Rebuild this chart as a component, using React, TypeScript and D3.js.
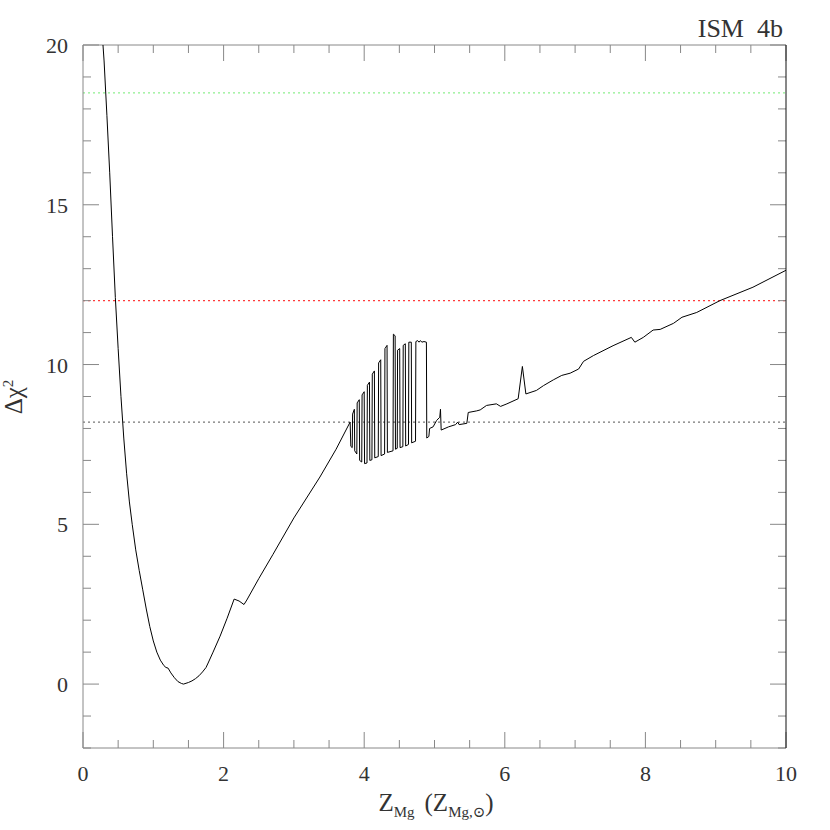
import React from 'react';
import * as d3 from 'd3';

// Δχ² vs Mg abundance
const zMg = [
  0.27, 0.30, 0.34, 0.38, 0.42, 0.46, 0.50, 0.54, 0.58, 0.62, 0.66, 0.70, 0.75, 0.80, 0.85,
  0.90, 0.95, 1.00, 1.05, 1.10, 1.15, 1.18, 1.21, 1.25, 1.30, 1.35, 1.40, 1.43, 1.50, 1.55,
  1.60, 1.65, 1.70, 1.75, 1.78, 1.85, 1.95, 2.05, 2.15, 2.22, 2.29, 2.33, 2.5,
  2.7, 3.0, 3.37, 3.6, 3.8,
  3.81, 3.83, 3.835, 3.86, 3.865, 3.895, 3.9, 3.93, 3.935, 3.965, 3.97, 4.0, 4.005, 4.04,
  4.045, 4.075, 4.08, 4.11, 4.115, 4.145, 4.15, 4.2, 4.205, 4.235, 4.24, 4.29, 4.295, 4.325,
  4.33, 4.41, 4.415, 4.44, 4.445, 4.47, 4.475, 4.505, 4.51, 4.55, 4.555, 4.585, 4.59, 4.63,
  4.635, 4.67, 4.675, 4.73, 4.735, 4.76, 4.78, 4.8, 4.82, 4.85, 4.885, 4.89,
  4.92, 4.93, 4.98, 5.03, 5.075, 5.085, 5.095, 5.2, 5.3, 5.33, 5.35, 5.46, 5.48, 5.6,
  5.65, 5.74, 5.88, 5.94, 6.03, 6.19, 6.25, 6.3, 6.45, 6.55, 6.69, 6.81, 6.93, 7.05,
  7.12, 7.26, 7.54, 7.8, 7.85, 7.97, 8.11, 8.21, 8.4, 8.52, 8.73, 9.06, 9.53, 10.0,
];
const deltaChi2 = [
  20.45, 19.5, 17.8, 16.0, 14.0, 12.1, 10.5, 9.0, 7.7, 6.6, 5.7, 5.0, 4.2, 3.55, 2.95,
  2.35, 1.8, 1.35, 1.0, 0.75, 0.58, 0.52, 0.5, 0.35, 0.2, 0.08, 0.02, 0.0, 0.05, 0.1,
  0.17, 0.26, 0.38, 0.52, 0.66, 1.0, 1.5, 2.06, 2.66, 2.6, 2.49, 2.63, 3.3,
  4.05, 5.2, 6.48, 7.35, 8.2,
  7.44, 7.4, 8.45, 8.6, 7.3, 7.2, 8.8, 8.9, 7.0, 6.95, 9.05, 9.15, 6.9, 6.92,
  9.35, 9.45, 7.0, 7.02, 9.7, 9.8, 7.08, 7.12, 10.05, 10.15, 7.15, 7.2, 10.5, 10.6,
  7.25, 7.3, 10.95, 10.9, 7.35, 7.38, 10.45, 10.5, 7.4, 7.43, 10.6, 10.65, 7.45, 7.5,
  10.7, 10.7, 7.55, 7.6, 10.72, 10.75, 10.7, 10.75, 10.7, 10.72, 10.7, 7.7,
  7.75, 8.0, 8.05, 8.25, 8.35, 8.6, 7.95, 8.05, 8.12, 8.2, 8.12, 8.16, 8.5, 8.55,
  8.58, 8.72, 8.77, 8.69, 8.77, 8.93, 9.94, 9.08, 9.19, 9.34, 9.52, 9.66, 9.73, 9.86,
  10.1, 10.28, 10.59, 10.85, 10.7, 10.85, 11.08, 11.1, 11.29, 11.48, 11.63, 12.0, 12.42, 12.95,
];

// horizontal confidence levels
const levels = [18.5, 12.0, 8.2];
const levelColors = ['#8fef8f', '#ff3b3b', '#777777'];

const xMajorTicks = [0, 2, 4, 6, 8, 10];
const yMajorTicks = [0, 5, 10, 15, 20];

const W = 830, H = 830;
const margin = { left: 83, right: 44, top: 45, bottom: 82 };

export default function App() {
  const x = d3.scaleLinear().domain([0, 10]).range([margin.left, W - margin.right]);
  const y = d3.scaleLinear().domain([-2, 20]).range([H - margin.bottom, margin.top]);
  const x0 = x(0), x1 = x(10), y0 = y(-2), y1 = y(20);

  const pts = zMg.map((z, i) => [z, deltaChi2[i]] as [number, number]);
  const line = d3.line<[number, number]>().x(d => x(d[0])).y(d => y(d[1]));

  const xMinor = d3.range(0, 10.01, 0.5);
  const yMinor = d3.range(-2, 20.01, 1);
  const tickCol = '#888';
  const font = '"Liberation Serif", "DejaVu Serif", serif';

  return (
    <svg width={W} height={H} style={{ position: 'absolute', left: 0, top: 0, background: '#fff' }}>
      <defs>
        <clipPath id="plot">
          <rect x={x0} y={y1} width={x1 - x0} height={y0 - y1} />
        </clipPath>
      </defs>

      {levels.map((v, i) => (
        <line key={'l' + i} x1={x0} x2={x1} y1={y(v)} y2={y(v)}
          stroke={levelColors[i]} strokeWidth={1.2} strokeDasharray="2,3" />
      ))}

      {/* ticks on all four sides */}
      {xMinor.map((t, i) => {
        const len = xMajorTicks.includes(t) ? 16 : 8;
        return (
          <g key={'xt' + i} stroke={tickCol} strokeWidth={1}>
            <line x1={x(t)} x2={x(t)} y1={y0} y2={y0 - len} />
            <line x1={x(t)} x2={x(t)} y1={y1} y2={y1 + len} />
          </g>
        );
      })}
      {yMinor.map((t, i) => {
        const len = yMajorTicks.includes(t) ? 16 : 8;
        return (
          <g key={'yt' + i} stroke={tickCol} strokeWidth={1}>
            <line x1={x0} x2={x0 + len} y1={y(t)} y2={y(t)} />
            <line x1={x1} x2={x1 - len} y1={y(t)} y2={y(t)} />
          </g>
        );
      })}

      {/* frame */}
      <line x1={x0} x2={x0} y1={y1} y2={y0} stroke={tickCol} />
      <line x1={x0} x2={x1} y1={y0} y2={y0} stroke={tickCol} />
      <line x1={x0} x2={x1} y1={y1} y2={y1} stroke={tickCol} />
      <line x1={x1} x2={x1} y1={y1} y2={y0} stroke="#111" />

      <path d={line(pts) || ''} fill="none" stroke="#000" strokeWidth={1} clipPath="url(#plot)" />

      {xMajorTicks.map(t => (
        <text key={'xl' + t} x={x(t)} y={781} textAnchor="middle" fontFamily={font}
          fontSize={22} fill="#333">{t}</text>
      ))}
      {yMajorTicks.map(t => (
        <text key={'yl' + t} x={68} y={y(t) + 8} textAnchor="end" fontFamily={font}
          fontSize={22} fill="#333">{t}</text>
      ))}

      <text x={436} y={811} textAnchor="middle" fontFamily={font} fontSize={25} fill="#333">
        <tspan>Z</tspan>
        <tspan fontSize={15} dy={6}>Mg</tspan>
        <tspan dy={-6} dx={10}>(Z</tspan>
        <tspan fontSize={15} dy={6}>Mg,⊙</tspan>
        <tspan dy={-6}>)</tspan>
      </text>

      <text transform="translate(22,397) rotate(-90)" textAnchor="middle" fontFamily={font}
        fontSize={25} fill="#333">
        Δχ<tspan fontSize={15} dy={-9}>2</tspan>
      </text>

      <text x={783} y={37} textAnchor="end" fontFamily={font} fontSize={26} fill="#333"
        style={{ whiteSpace: 'pre' }}>ISM  4b</text>
    </svg>
  );
}
